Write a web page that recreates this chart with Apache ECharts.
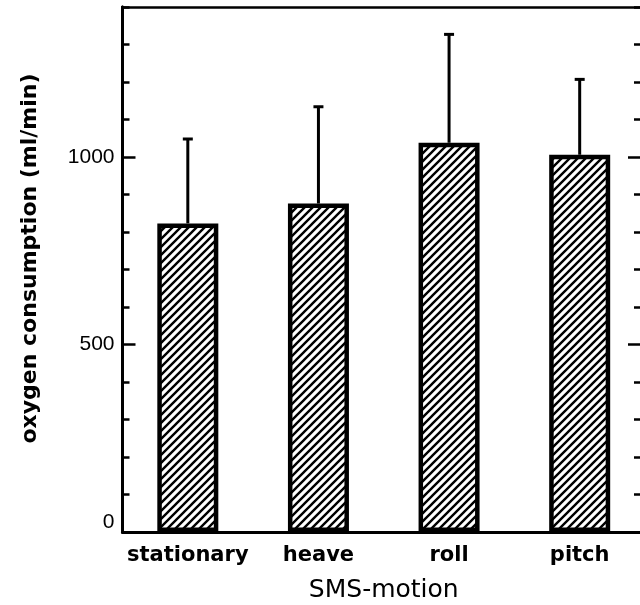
<!DOCTYPE html>
<html>
<head>
<meta charset="utf-8">
<script src="https://cdn.jsdelivr.net/npm/echarts@6/dist/echarts.min.js"></script>
<style>
html,body{margin:0;padding:0;background:#fff;}
#chart{width:640px;height:605px;}
</style>
</head>
<body>
<div id="chart"></div>
<script>
// ---- data ----
const categories = ['stationary', 'heave', 'roll', 'pitch'];
const meanValues = [823, 876, 1038, 1006];
const sdValues = [225, 258, 289, 201];
const majorTickValues = [0, 500, 1000];
const xAxisTitle = 'SMS-motion';
const yAxisTitle = 'oxygen consumption (ml/min)';

// ---- hatch pattern (style only) ----
function makeHatch() {
  const s = 8;
  const c = document.createElement('canvas');
  c.width = s; c.height = s;
  const g = c.getContext('2d');
  g.fillStyle = '#fff';
  g.fillRect(0, 0, s, s);
  g.strokeStyle = '#000';
  g.lineWidth = 2.4;
  g.beginPath();
  for (let k = -1; k <= 1; k++) {
    g.moveTo(k * s - 1, s + 1);
    g.lineTo(k * s + s + 1, -1);
  }
  g.stroke();
  return c;
}
const hatch = makeHatch();

const FONT = 'Liberation Sans';
const WFONT = 'DejaVu Sans';
const upperValues = meanValues.map((m, i) => m + sdValues[i]);

const chart = echarts.init(document.getElementById('chart'), null, {renderer: 'canvas'});

const yBase = {
  type: 'value', min: 0, max: 1400,
  splitLine: {show: false},
  axisLine: {show: true, onZero: false, lineStyle: {color: '#000', width: 3}}
};

const option = {
  backgroundColor: '#fff',
  animation: false,
  grid: {left: 122.5, right: -5, top: 7, bottom: 73, containLabel: false, outerBoundsMode: 'none'},
  xAxis: [
    {
      type: 'category', data: categories, position: 'bottom',
      boundaryGap: true,
      axisLine: {show: true, onZero: false, lineStyle: {color: '#000', width: 3}},
      axisTick: {show: false},
      axisLabel: {color: '#000', fontFamily: WFONT, fontWeight: 'bold', fontSize: 21, margin: 13,
        interval: 0, hideOverlap: false},
      name: xAxisTitle, nameLocation: 'middle', nameGap: 46,
      nameTextStyle: {color: '#000', fontFamily: WFONT, fontSize: 25, fontWeight: 'normal'}
    },
    {
      type: 'category', data: categories, position: 'top',
      axisLine: {show: true, onZero: false, lineStyle: {color: '#000', width: 2.5}},
      axisTick: {show: false}, axisLabel: {show: false}
    }
  ],
  yAxis: [
    Object.assign({}, yBase, {
      position: 'left', interval: 500,
      axisTick: {show: true, inside: true, length: 13, lineStyle: {color: '#000', width: 2.5}, customValues: majorTickValues},
      axisLabel: {color: '#000', fontFamily: FONT, fontSize: 21, margin: 8, customValues: majorTickValues,
        formatter: function (v) { return v === 0 ? '{z|0}' : String(v); },
        rich: {z: {color: '#000', fontFamily: FONT, fontSize: 21, padding: [0, 0, 20, 0]}}},
      name: yAxisTitle, nameLocation: 'middle', nameGap: 81,
      nameTextStyle: {color: '#000', fontFamily: WFONT, fontSize: 22, fontWeight: 'bold', padding: [0, 0, 0, 22]}
    }),
    Object.assign({}, yBase, {
      position: 'left', interval: 100,
      axisTick: {show: true, inside: true, length: 7, lineStyle: {color: '#000', width: 2.5}},
      axisLabel: {show: false}
    }),
    Object.assign({}, yBase, {
      position: 'right', interval: 500,
      axisTick: {show: true, inside: true, length: 17, lineStyle: {color: '#000', width: 2.5}, customValues: majorTickValues},
      axisLabel: {show: false}
    }),
    Object.assign({}, yBase, {
      position: 'right', interval: 100,
      axisTick: {show: true, inside: true, length: 11, lineStyle: {color: '#000', width: 2.5}},
      axisLabel: {show: false}
    })
  ],
  series: [
    {
      type: 'bar', data: meanValues, xAxisIndex: 0, yAxisIndex: 0,
      barWidth: 61,
      itemStyle: {color: {image: hatch, repeat: 'repeat'}, borderColor: '#000', borderWidth: 4.5},
      z: 2
    },
    {
      type: 'custom', xAxisIndex: 0, yAxisIndex: 0, z: 3,
      data: categories.map((c, i) => [i, meanValues[i], upperValues[i]]),
      renderItem: function (params, api) {
        const top = api.coord([api.value(0), api.value(2)]);
        const bot = api.coord([api.value(0), api.value(1)]);
        const x = top[0];
        return {
          type: 'group',
          children: [
            {type: 'line', shape: {x1: x, y1: bot[1], x2: x, y2: top[1]}, style: {stroke: '#000', lineWidth: 3}},
            {type: 'line', shape: {x1: x - 5, y1: top[1], x2: x + 5, y2: top[1]}, style: {stroke: '#000', lineWidth: 3}}
          ]
        };
      }
    }
  ]
};
chart.setOption(option);
</script>
</body>
</html>
